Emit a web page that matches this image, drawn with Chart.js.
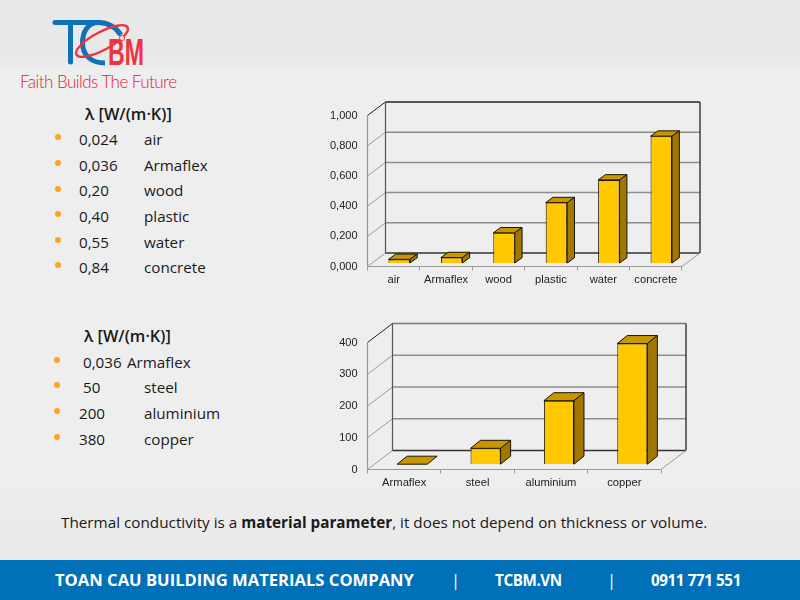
<!DOCTYPE html>
<html lang="en">
<head>
<meta charset="UTF-8">
<title>Thermal conductivity</title>
<script src="https://cdn.jsdelivr.net/npm/chart.js@4/dist/chart.umd.js"></script>
<style>
  html, body { margin: 0; padding: 0; }
  body { width: 800px; height: 600px; position: relative; overflow: hidden;
         background: linear-gradient(#e8e8e8 0, #e9e9e9 60px, #eeeeef 70px, #eeeeef 480px, #e9e9e9 560px);
         font-family: "Open Sans", sans-serif; color: #1a1a1a; }
  canvas { position: absolute; }
  .t { position: absolute; white-space: nowrap; line-height: 20px; font-size: 15.2px; }
  .dot { position: absolute; width: 6px; height: 6px; border-radius: 3px; background: #ffa21f; }
  #logo { position: absolute; left: 0; top: 0; }
  #bar { position: absolute; left: 0; top: 560px; width: 800px; height: 40px; background: #0070b8; }
  #bar span { position: absolute; top: 9px; line-height: 22px; color: #fff; font-weight: 700; font-size: 16.6px; white-space: nowrap; }
  #bar .short { font-size: 15.2px; letter-spacing: -0.4px; }
</style>
</head>
<body>

<svg id="logo" width="200" height="100">
  <path d="M55 22.5H100" stroke="#0f72b8" stroke-width="5" stroke-linecap="round" fill="none"/>
  <path d="M70.5 23V62" stroke="#0f72b8" stroke-width="5" stroke-linecap="round" fill="none"/>
  <path d="M121 35C115 26 107 22.5 98 22.5C88 22.5 82.5 32 82.5 43C82.5 55 91 63 105 63" stroke="#0f72b8" stroke-width="5" fill="none"/>
  <ellipse cx="102" cy="41" rx="29" ry="9" transform="rotate(-28 102 41)" stroke="#ee3340" stroke-width="2.4" fill="none"/>
  <circle cx="122" cy="38" r="2.5" fill="#eee" stroke="#ee3340"/>
  <text x="108" y="65" font-family="Liberation Sans" font-weight="700" font-size="37" fill="#ee3340" textLength="36" lengthAdjust="spacingAndGlyphs">BM</text>
  <text x="20" y="88" font-family="Lato" font-weight="300" font-size="17" fill="#e6202c" textLength="157" lengthAdjust="spacing">Faith Builds The Future</text>
</svg>

<canvas id="chart1" width="400" height="205" style="left:320px;top:95px"></canvas>
<canvas id="chart2" width="380" height="175" style="left:320px;top:320px"></canvas>

<div id="texts"></div>

<div id="bar">
  <span style="left:55px">TOAN CAU BUILDING MATERIALS COMPANY</span>
  <span style="left:451px;font-weight:400">|</span>
  <span class="short" style="left:495px">TCBM.VN</span>
  <span style="left:607px;font-weight:400">|</span>
  <span class="short" style="left:651px">0911 771 551</span>
</div>

<script>
// top chart
const categories1 = ['air', 'Armaflex', 'wood', 'plastic', 'water', 'concrete'];
const values1 = [0.024, 0.036, 0.20, 0.40, 0.55, 0.84];
const tickValues1 = [0, 0.2, 0.4, 0.6, 0.8, 1];
const tickLabels1 = ['0,000', '0,200', '0,400', '0,600', '0,800', '1,000'];
const listValues1 = ['0,024', '0,036', '0,20', '0,40', '0,55', '0,84'];

// bottom chart
const categories2 = ['Armaflex', 'steel', 'aluminium', 'copper'];
const values2 = [0.036, 50, 200, 380];
const tickValues2 = [0, 100, 200, 300, 400];
const tickLabels2 = ['0', '100', '200', '300', '400'];
const listValues2 = ['0,036', '50', '200', '380'];

const heading = 'λ [W/(m·K)]';

function addText(x, y, html, extra) {
  const d = document.createElement('div');
  d.className = 't';
  d.style.left = x + 'px';
  d.style.top = (y - 10) + 'px';
  d.innerHTML = html;
  if (extra) d.style.cssText += extra;
  document.getElementById('texts').appendChild(d);
}
function addDot(x, y) {
  const d = document.createElement('div');
  d.className = 'dot';
  d.style.left = (x - 3) + 'px';
  d.style.top = (y - 3) + 'px';
  document.getElementById('texts').appendChild(d);
}

addText(85, 114, heading, 'font-weight:600;font-size:16.3px');
const rows1 = [139, 165, 190.5, 216, 242, 267];
categories1.forEach(function (c, i) {
  addDot(58, rows1[i] - 2);
  addText(79, rows1[i] - 0.5, listValues1[i]);
  addText(144, rows1[i] - 0.5, c);
});

addText(84, 336, heading, 'font-weight:600;font-size:16.3px');
const rows2 = [362, 387, 413, 439];
const xs2 = [83, 83, 79, 79];
categories2.forEach(function (c, i) {
  addDot(57, rows2[i] - 2);
  addText(xs2[i], rows2[i] - 0.5, listValues2[i]);
  addText(i == 0 ? 127 : 144, rows2[i] - 0.5, c);
});

addText(61, 522, 'Thermal conductivity is a <b>material parameter</b>, it does not depend on thickness or volume.', 'font-size:15.27px');

// draws the walls behind the bars and the top and side of every bar
const box3d = {
  id: 'box3d',
  beforeDatasetsDraw(chart, args, o) {
    const c = chart.ctx, a = chart.chartArea, s = chart.scales.y;
    function line(x1, y1, x2, y2, col, w) {
      c.strokeStyle = col; c.lineWidth = w;
      c.beginPath(); c.moveTo(x1, y1); c.lineTo(x2, y2); c.stroke();
    }
    c.save();
    s.ticks.forEach(function (t) {
      const y = s.getPixelForValue(t.value);
      const top = t.value == s.max, bottom = t.value == s.min;
      line(a.left, y, a.left + o.dx, y + o.dy, top ? '#222' : '#9a9a9a', 1);
      if (!top && !bottom) line(a.left + o.dx, y + o.dy, a.right + o.dx, y + o.dy, '#8e8e8e', 1.5);
    });
    line(a.left + o.dx, a.top + o.dy, a.right + o.dx, a.top + o.dy, o.frame, 1.4);
    line(a.left + o.dx, a.bottom + o.dy, a.right + o.dx, a.bottom + o.dy, '#333', 1.4);
    line(a.left + o.dx, a.top + o.dy, a.left + o.dx, a.bottom + o.dy, '#555', 1.2);
    line(a.right + o.dx, a.top + o.dy, a.right + o.dx, a.bottom + o.dy, '#333', 1.4);
    line(a.left, a.top, a.left, a.bottom, '#999', 1.2);
    line(a.left, a.bottom, a.right, a.bottom, '#999', 1.2);
    line(a.right, a.bottom, a.right + o.dx, a.bottom + o.dy, '#999', 1);
    c.restore();
  },
  beforeDatasetDraw(chart, args, o) {
    chart.ctx.save();
    chart.ctx.translate(o.shiftX, o.shiftY);
  },
  afterDatasetDraw(chart, args, o) {
    const c = chart.ctx;
    chart.getDatasetMeta(args.index).data.forEach(function (b) {
      const l = b.x - b.width / 2, r = b.x + b.width / 2;
      c.lineWidth = 1;
      c.strokeStyle = '#1c1400';
      c.lineJoin = 'round';
      c.fillStyle = '#c89600';
      c.beginPath();
      c.moveTo(l, b.y); c.lineTo(l + o.depthX, b.y + o.depthY);
      c.lineTo(r + o.depthX, b.y + o.depthY); c.lineTo(r, b.y);
      c.closePath(); c.fill(); c.stroke();
      if (b.base - b.y > 0.5) {
        c.fillStyle = '#a07800';
        c.beginPath();
        c.moveTo(r, b.y); c.lineTo(r + o.depthX, b.y + o.depthY);
        c.lineTo(r + o.depthX, b.base + o.depthY); c.lineTo(r, b.base);
        c.closePath(); c.fill(); c.stroke();
      }
    });
    c.restore();
  }
};

function makeChart(id, categories, values, tickValues, tickLabels, yMax, g) {
  return new Chart(document.getElementById(id).getContext('2d'), {
    type: 'bar',
    plugins: [box3d],
    data: {
      labels: categories,
      datasets: [{
        data: values,
        backgroundColor: '#ffc800',
        borderColor: '#1c1400',
        borderWidth: 1,
        clip: false,
        categoryPercentage: 1,
        barPercentage: g.bar
      }]
    },
    options: {
      responsive: false,
      animation: false,
      layout: { padding: { top: g.top, right: g.right, left: 0, bottom: 0 } },
      plugins: { legend: { display: false }, tooltip: { enabled: false }, box3d: g },
      scales: {
        x: {
          afterFit(s) { s.height = g.xHeight; },
          grid: { drawOnChartArea: false, tickLength: 4, color: '#999' },
          border: { display: false },
          ticks: { color: '#222', padding: g.xPad, font: { family: 'Liberation Sans', size: 11.2 }, maxRotation: 0, autoSkip: false }
        },
        y: {
          min: 0,
          max: yMax,
          afterFit(s) { s.width = g.yWidth; },
          afterBuildTicks(s) { s.ticks = tickValues.map(function (v) { return { value: v }; }); },
          grid: { display: false },
          border: { display: false },
          ticks: {
            color: '#222',
            padding: g.yPad,
            font: { family: 'Liberation Sans', size: 11 },
            callback: function (v) { return tickLabels[tickValues.indexOf(v)]; }
          }
        }
      }
    }
  });
}

makeChart('chart1', categories1, values1, tickValues1, tickLabels1, 1, {
  top: 20.5, right: 38, yWidth: 47.5, xHeight: 33.5, bar: 0.41, xPad: 3, yPad: 2,
  dx: 18, dy: -13.5, shiftX: 5.5, shiftY: -3.5, depthX: 7.3, depthY: -5.3, frame: '#222'
});
makeChart('chart2', categories2, values2, tickValues2, tickLabels2, 400, {
  top: 22.5, right: 39, yWidth: 47.5, xHeight: 25.5, bar: 0.41, xPad: 3, yPad: 2,
  dx: 25, dy: -19, shiftX: 8, shiftY: -5.3, depthX: 10, depthY: -8, frame: '#777'
});
</script>
</body>
</html>
